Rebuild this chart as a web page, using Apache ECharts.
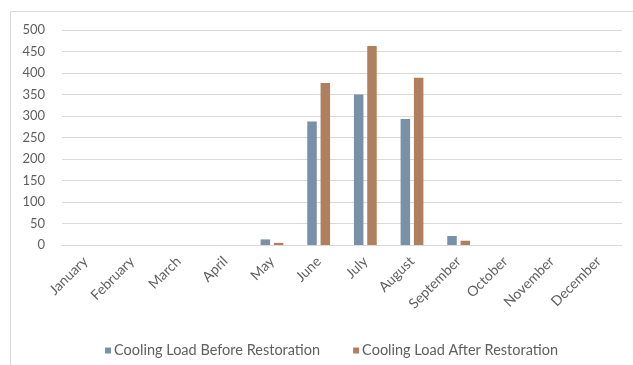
<!DOCTYPE html>
<html>
<head>
<meta charset="utf-8">
<script src="https://cdn.jsdelivr.net/npm/echarts@6/dist/echarts.min.js"></script>
<style>
  html, body { margin: 0; padding: 0; background: #ffffff; }
  #chart { width: 633px; height: 365px; }
</style>
</head>
<body>
<div id="chart"></div>
<script>
// Monthly cooling load before and after the restoration
const months = ['January', 'February', 'March', 'April', 'May', 'June',
  'July', 'August', 'September', 'October', 'November', 'December'];
const loadBefore = [0, 0, 0, 0, 13, 287, 350, 293, 21, 0, 0, 0];
const loadAfter = [0, 0, 0, 0, 5, 377, 463, 389, 10, 0, 0, 0];
const yTicks = { min: 0, max: 500, interval: 50 };

const textColor = '#5f5f5f';
const fontFamily = 'Lato, "Liberation Sans", sans-serif';

const chart = echarts.init(document.getElementById('chart'), null, { renderer: 'canvas' });
chart.setOption({
  animation: false,
  backgroundColor: '#ffffff',
  textStyle: { fontFamily: fontFamily, color: textColor },
  graphic: [{
    type: 'rect',
    shape: { x: 10.5, y: 11.5, width: 640, height: 400 },
    style: { fill: 'none', stroke: '#d9d9d9', lineWidth: 1 },
    silent: true
  }],
  grid: { left: 62, right: 11, top: 30, bottom: 120 },
  legend: {
    top: 338,
    left: 100,
    itemWidth: 6,
    itemHeight: 6,
    itemGap: 33,
    icon: 'rect',
    textStyle: { color: textColor, fontSize: 14.5, fontFamily: fontFamily, padding: [0, 0, 0, -2] }
  },
  xAxis: {
    type: 'category',
    data: months,
    axisLine: { show: true, lineStyle: { color: '#d9d9d9' } },
    axisTick: { show: false },
    axisLabel: { rotate: 45, color: textColor, fontSize: 14, margin: 14, interval: 0 }
  },
  yAxis: {
    type: 'value',
    min: yTicks.min,
    max: yTicks.max,
    interval: yTicks.interval,
    axisLine: { show: false },
    axisTick: { show: false },
    axisLabel: { color: textColor, fontSize: 13, margin: 17 },
    splitLine: { lineStyle: { color: '#d9d9d9', width: 1 } }
  },
  series: [
    {
      name: 'Cooling Load Before Restoration',
      type: 'bar',
      data: loadBefore,
      barWidth: 9.5,
      barGap: '40%',
      itemStyle: { color: '#7890a8' }
    },
    {
      name: 'Cooling Load After Restoration',
      type: 'bar',
      data: loadAfter,
      barWidth: 9.5,
      barGap: '40%',
      itemStyle: { color: '#b07f5e' }
    }
  ]
});
</script>
</body>
</html>
